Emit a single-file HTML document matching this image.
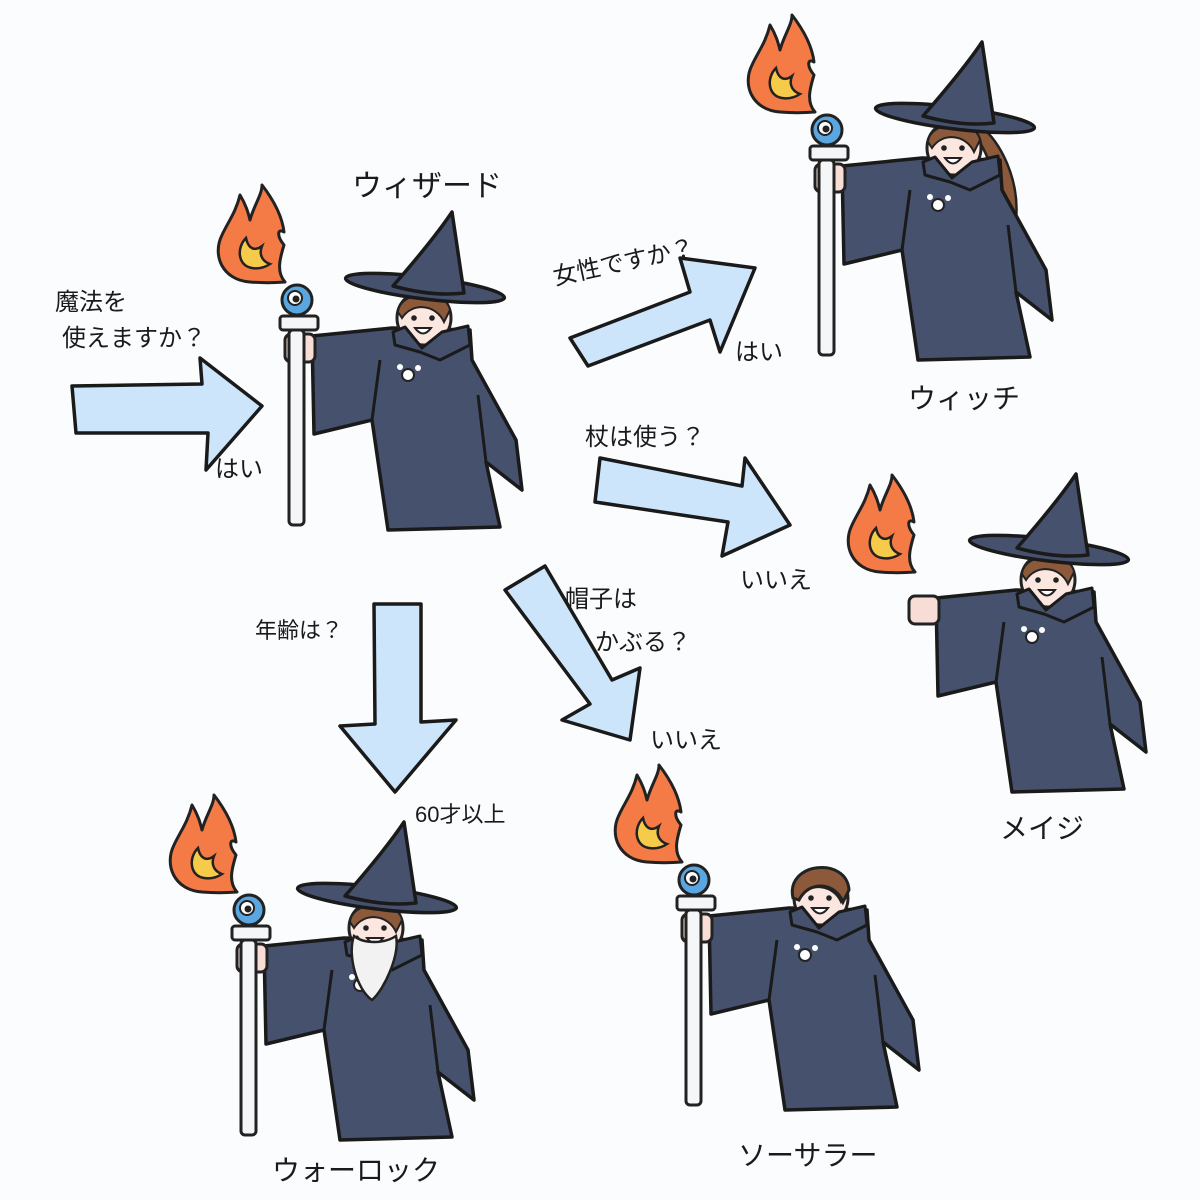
<!DOCTYPE html>
<html><head><meta charset="utf-8"><style>
html,body{margin:0;padding:0;background:#fbfcfd}
svg{display:block}
text{font-family:"Liberation Sans","Noto Sans CJK JP",sans-serif;fill:#1a1a1a}
</style></head><body>
<svg width="1200" height="1200" viewBox="0 0 1200 1200" xmlns="http://www.w3.org/2000/svg">
<defs>
<g id="flame">
<path d="M250,282 C222,280 212,255 222,235 C228,222 236,212 240,195 C246,205 248,212 250,220 C254,205 262,195 262,185 C272,198 282,215 284,232 C278,228 276,235 284,245 C280,258 276,272 285,282 C272,283 262,283 250,282 Z" fill="#f47b45" stroke="#222" stroke-width="3" stroke-linejoin="round"/>
<path d="M252,268 C238,266 236,248 246,238 C248,248 254,252 262,246 C258,256 264,262 270,264 C264,268 258,269 252,268 Z" fill="#f7cb4a" stroke="#222" stroke-width="2.5"/>
</g>
<g id="staff">
<rect x="289" y="330" width="15" height="195" rx="4" fill="#f4f6f8" stroke="#222" stroke-width="3"/>
<rect x="280" y="316" width="38" height="14" rx="3" fill="#f4f6f8" stroke="#222" stroke-width="3"/>
<circle cx="297" cy="300" r="15" fill="#5aa6e0" stroke="#222" stroke-width="3"/>
<circle cx="295" cy="298" r="7" fill="#fff" stroke="#222" stroke-width="2"/>
<circle cx="296" cy="299" r="3.5" fill="#222"/>
</g>
<g id="body">
<path d="M392,328 L312,336 L314,434 L372,420 L388,530 L500,527 L486,462 L522,490 L516,440 L472,360 L470,330 Z" fill="#46526d" stroke="#1a1a1a" stroke-width="3.5" stroke-linejoin="round"/>
<path d="M372,420 L380,360 M486,462 L478,395" fill="none" stroke="#1a1a1a" stroke-width="3"/>
<rect x="285" y="334" width="30" height="28" rx="6" fill="#f7ddd6" stroke="#222" stroke-width="3"/>
<circle cx="424" cy="318" r="27" fill="#fbe6e0" stroke="#222" stroke-width="3"/>
<path d="M398,312 C400,290 446,288 450,310 L444,322 C436,304 412,302 402,318 Z" fill="#8c5a3a" stroke="#222" stroke-width="2"/>
<circle cx="414" cy="318" r="2.8" fill="#222"/><circle cx="432" cy="318" r="2.8" fill="#222"/>
<path d="M415,328 Q423,339 431,328 Z" fill="#fff" stroke="#222" stroke-width="2"/>
<path d="M393,332 L405,327 L422,348 L442,332 L468,326 L470,345 L440,360 L420,352 L395,345 Z" fill="#46526d" stroke="#1a1a1a" stroke-width="3" stroke-linejoin="round"/>
<circle cx="408" cy="375" r="6" fill="#fff" stroke="#222" stroke-width="2"/>
<circle cx="400" cy="367" r="3" fill="#fff"/><circle cx="418" cy="368" r="3" fill="#fff"/>
</g>
<g id="hat">
<ellipse cx="425" cy="288" rx="80" ry="11" transform="rotate(7 425 288)" fill="#46526d" stroke="#1a1a1a" stroke-width="3.5"/>
<path d="M393,286 C420,255 440,230 452,212 C456,240 460,265 464,293 C440,296 415,292 393,286 Z" fill="#46526d" stroke="#1a1a1a" stroke-width="3.5" stroke-linejoin="round"/>
</g>
</defs>

<g fill="#cde5fb" stroke="#1a1a1a" stroke-width="3.5" stroke-linejoin="round">
<path d="M72,386 L202,384 L200,358 L262,406 L206,470 L208,433 L76,433 Z"/>
<path d="M570,338 L690,292 L680,258 L755,268 L720,352 L710,320 L588,366 Z"/>
<path d="M600,458 L742,486 L745,458 L790,525 L722,556 L728,522 L595,502 Z"/>
<path d="M374,604 L421,604 L421,722 L456,720 L395,792 L340,726 L375,724 Z"/>
<path d="M505,590 L545,566 L612,680 L640,668 L630,740 L562,720 L590,704 Z"/>
</g>

<use href="#flame"/>
<use href="#body"/><use href="#hat"/><use href="#staff"/>

<g transform="translate(530,-170)">
<use href="#flame"/>
<path d="M440,300 C460,320 470,360 462,380 L486,390 C490,350 470,310 450,296 Z" fill="#8c5a3a" stroke="#222" stroke-width="2.5"/>
<use href="#body"/><use href="#hat"/><use href="#staff"/>
</g>

<g transform="translate(624,262)">
<use href="#body"/><use href="#hat"/>
</g>
<g transform="translate(630,290)"><use href="#flame"/></g>

<g transform="translate(-48,610)">
<use href="#flame"/>
<use href="#body"/>
<path d="M402,326 C395,345 405,380 420,390 C432,380 448,345 444,326 C432,334 412,334 402,326 Z" fill="#f2f2f2" stroke="#222" stroke-width="2.5"/>
<use href="#hat"/><use href="#staff"/>
</g>

<g transform="translate(397,580)">
<use href="#flame"/>
<use href="#body"/>
<path d="M396,318 C388,282 450,276 452,310 L446,322 C438,302 412,300 402,320 Z" fill="#8c5a3a" stroke="#222" stroke-width="3"/>
<use href="#staff"/>
</g>

<g font-size="26">
<text x="352" y="196" font-size="30">ウィザード</text>
<text x="55" y="310" font-size="24">魔法を</text>
<text x="62" y="346" font-size="24">使えますか？</text>
<text x="215" y="477" font-size="24">はい</text>
<text x="555" y="285" font-size="24" transform="rotate(-12 555 285)">女性ですか？</text>
<text x="735" y="360" font-size="24">はい</text>
<text x="908" y="408" font-size="28">ウィッチ</text>
<text x="585" y="445" font-size="24">杖は使う？</text>
<text x="740" y="588" font-size="24">いいえ</text>
<text x="1000" y="838" font-size="28">メイジ</text>
<text x="255" y="638" font-size="22">年齢は？</text>
<text x="565" y="607" font-size="24">帽子は</text>
<text x="595" y="650" font-size="24">かぶる？</text>
<text x="415" y="822" font-size="22">60才以上</text>
<text x="650" y="748" font-size="24">いいえ</text>
<text x="272" y="1180" font-size="28">ウォーロック</text>
<text x="738" y="1165" font-size="28">ソーサラー</text>
</g>
</svg>
</body></html>
